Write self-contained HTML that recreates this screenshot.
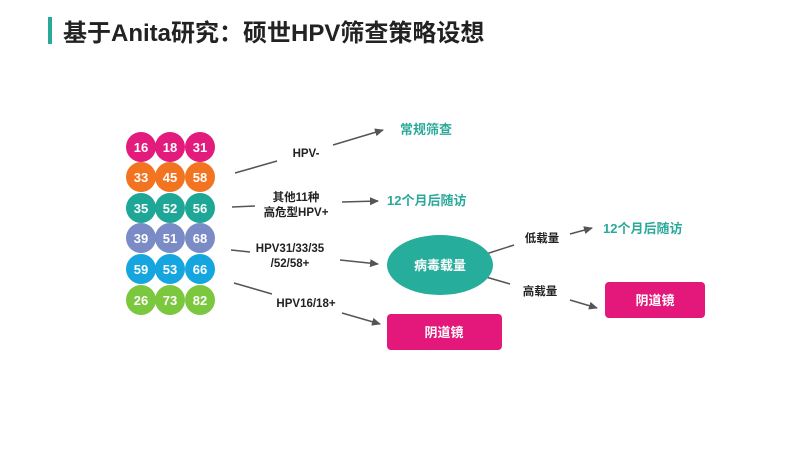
<!DOCTYPE html>
<html><head><meta charset="utf-8"><style>
html,body{margin:0;padding:0;background:#fff;width:800px;height:450px;overflow:hidden}
svg text{font-family:"Liberation Sans","Noto Sans CJK SC",sans-serif;font-weight:bold}
</style></head><body>
<svg width="800" height="450" viewBox="0 0 800 450" xmlns="http://www.w3.org/2000/svg">
<defs><marker id="a" markerWidth="10" markerHeight="10" refX="8" refY="5" orient="auto" markerUnits="userSpaceOnUse"><path d="M0,1 L9,5 L0,9 Z" fill="#555"/></marker></defs>
<rect x="48" y="17" width="4" height="27" fill="#2aa99a"/>
<text x="63" y="41" font-size="24" fill="#222">基于Anita研究：硕世HPV筛查策略设想</text>
<g font-size="13" fill="#fff" text-anchor="middle">
<g fill="#e21b7c"><circle cx="141" cy="147" r="15"/><circle cx="170" cy="147" r="15"/><circle cx="200" cy="147" r="15"/></g>
<g fill="#f27421"><circle cx="141" cy="177" r="15"/><circle cx="170" cy="177" r="15"/><circle cx="200" cy="177" r="15"/></g>
<g fill="#1ea797"><circle cx="141" cy="208" r="15"/><circle cx="170" cy="208" r="15"/><circle cx="200" cy="208" r="15"/></g>
<g fill="#7b8bc6"><circle cx="141" cy="238" r="15"/><circle cx="170" cy="238" r="15"/><circle cx="200" cy="238" r="15"/></g>
<g fill="#16a6df"><circle cx="141" cy="269" r="15"/><circle cx="170" cy="269" r="15"/><circle cx="200" cy="269" r="15"/></g>
<g fill="#7bc73e"><circle cx="141" cy="300" r="15"/><circle cx="170" cy="300" r="15"/><circle cx="200" cy="300" r="15"/></g>
<text x="141" y="152">16</text><text x="170" y="152">18</text><text x="200" y="152">31</text>
<text x="141" y="182">33</text><text x="170" y="182">45</text><text x="200" y="182">58</text>
<text x="141" y="213">35</text><text x="170" y="213">52</text><text x="200" y="213">56</text>
<text x="141" y="243">39</text><text x="170" y="243">51</text><text x="200" y="243">68</text>
<text x="141" y="274">59</text><text x="170" y="274">53</text><text x="200" y="274">66</text>
<text x="141" y="305">26</text><text x="170" y="305">73</text><text x="200" y="305">82</text>
</g>
<g stroke="#555" stroke-width="1.5" fill="none">
<line x1="235" y1="173" x2="277" y2="161"/><line x1="333" y1="145" x2="383" y2="130" marker-end="url(#a)"/>
<line x1="232" y1="207" x2="255" y2="206"/><line x1="342" y1="202" x2="378" y2="201" marker-end="url(#a)"/>
<line x1="231" y1="250" x2="250" y2="252"/><line x1="340" y1="260" x2="378" y2="264" marker-end="url(#a)"/>
<line x1="234" y1="283" x2="272" y2="294"/><line x1="342" y1="313" x2="380" y2="324" marker-end="url(#a)"/>
<line x1="486" y1="254" x2="514" y2="245"/><line x1="570" y1="234" x2="592" y2="228" marker-end="url(#a)"/>
<line x1="486" y1="277" x2="510" y2="284"/><line x1="570" y1="300" x2="597" y2="308" marker-end="url(#a)"/>
</g>
<g font-size="11.5" fill="#222" text-anchor="middle">
<text x="306" y="157">HPV-</text>
<text x="296" y="201">其他11种</text><text x="296" y="216">高危型HPV+</text>
<text x="290" y="252">HPV31/33/35</text><text x="290" y="267">/52/58+</text>
<text x="306" y="307">HPV16/18+</text>
<text x="542" y="242">低载量</text><text x="540" y="295">高载量</text>
</g>
<g font-size="13" fill="#2aa99a">
<text x="400" y="134">常规筛查</text>
<text x="387" y="205">12个月后随访</text>
<text x="603" y="233">12个月后随访</text>
</g>
<ellipse cx="440" cy="265" rx="53" ry="30" fill="#27ad9c"/>
<rect x="387" y="314" width="115" height="36" rx="4" fill="#e4177a"/>
<rect x="605" y="282" width="100" height="36" rx="4" fill="#e4177a"/>
<g font-size="13" fill="#fff" text-anchor="middle">
<text x="440" y="270">病毒载量</text><text x="444" y="337">阴道镜</text><text x="655" y="305">阴道镜</text>
</g>
</svg>
</body></html>
